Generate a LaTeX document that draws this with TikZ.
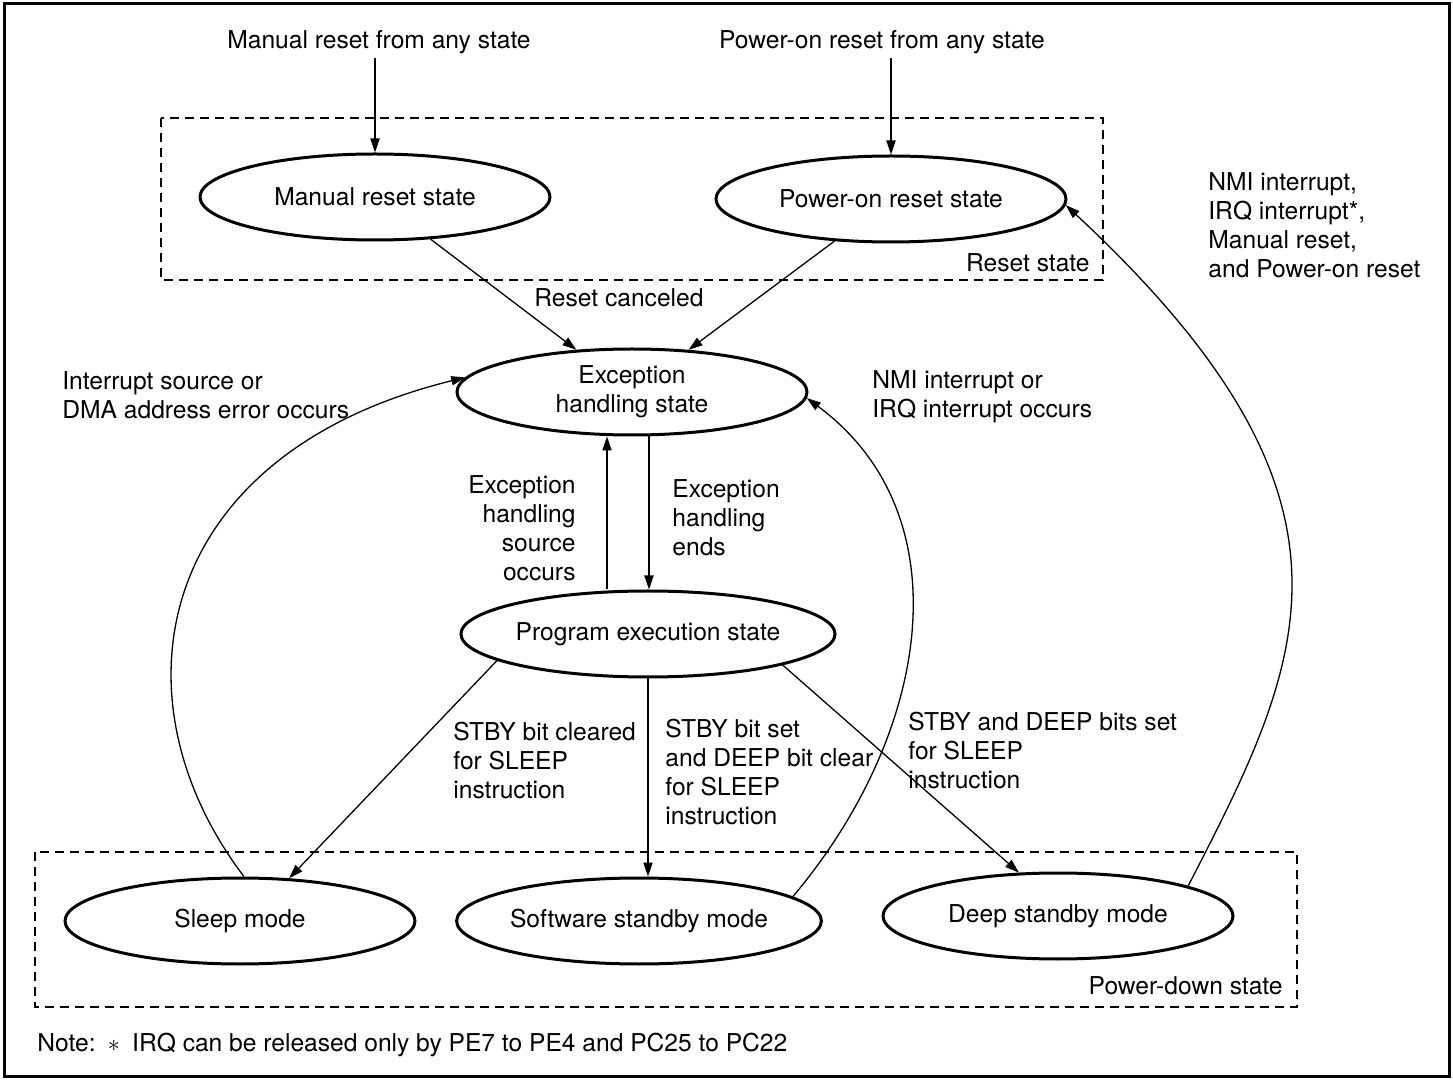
\documentclass[tikz,border=0pt]{standalone}
\usepackage{fontspec}
\setmainfont{TeX Gyre Heros}
\usetikzlibrary{shapes.geometric,arrows.meta}

\begin{document}
\begin{tikzpicture}[x=0.5pt,y=-0.5pt,
  every node/.append style={font=\fontsize{12.3}{14.5}\selectfont},
  state/.style={ellipse,draw,line width=1.5pt,minimum width=175pt,minimum height=43pt,inner sep=0pt,align=center},
  trans/.style={-{Triangle[length=7pt,width=4.6pt]},line width=0.65pt},
  region/.style={dash pattern=on 4.5pt off 3pt,line width=0.6pt},
  lbl/.style={inner sep=0pt,anchor=west,align=left}]
  \useasboundingbox (0,0) rectangle (1453,1080);
  \draw[line width=1.5pt] (4,4) rectangle (1449,1076);

  % dashed groups
  \draw[region] (161,118) rectangle (1103,280);
  \draw[region] (35,852) rectangle (1297,1007);
  \node[lbl,anchor=east] (rstlbl) at (1090,263) {Reset state};
  \node[lbl,anchor=east] (pdlbl) at (1283,986) {Power-down state};

  % states
  \foreach \name/\x/\y/\txt in {mrs/375/197/Manual reset state, pors/891/199/Power-on reset state,
      prog/648/634/Program execution state, sleep/240/921/Sleep mode,
      soft/639/921/Software standby mode, deep/1058/916/Deep standby mode}
    \node[state] (\name) at (\x,\y) {\txt};
  \node[state] (exc) at (632,392) {Exception\\handling state};

  % resets
  \node[inner sep=2pt] (mrtxt) at (379,42) {Manual reset from any state};
  \node[inner sep=2pt] (portxt) at (882,42) {Power-on reset from any state};
  \draw[trans] (mrs.north |- mrtxt.south) -- (mrs.north);
  \draw[trans] (pors.north |- portxt.south) -- (pors.north);
  \draw[trans] (mrs) -- (exc);
  \draw[trans] (pors) -- (exc);
  \node (rc) at (619,298) {Reset canceled};

  % exception <-> program
  \coordinate (up) at ([xshift=-12.5pt]exc.south);
  \coordinate (dn) at ([xshift=8.5pt]exc.south);
  \draw[trans] (up |- prog.north) -- (up);
  \draw[trans] (dn) -- (dn |- prog.north);
  \node[lbl,anchor=east,align=right] (srcl) at (576,528) {Exception\\handling\\source\\occurs};
  \node[lbl] (endl) at (672,518) {Exception\\handling\\ends};

  % SLEEP instruction
  \draw[trans] (prog.190) -- (sleep.41);
  \draw[trans] (prog.south) -- (prog.south |- soft.north);
  \draw[trans] (prog.-13) -- (deep.132);
  \node[lbl] (clrl) at (453,760) {STBY bit cleared\\for SLEEP\\instruction};
  \node[lbl] (setl) at (665,772) {STBY bit set\\and DEEP bit clear\\for SLEEP\\instruction};
  \node[lbl] (deepl) at (908,750) {STBY and DEEP bits set\\for SLEEP\\instruction};

  % wake-up paths
  \draw[trans] (sleep.85) .. controls +(-135,-178) and +(-313,77) .. (exc.175);
  \draw[trans] (soft.9) .. controls +(139,-165) and +(157,116) .. (exc.-2);
  \draw[trans] (deep.13) .. controls +(118,-229) and +(318,296) .. (pors.-2);
  \node[lbl] (intl) at (62,395) {Interrupt source or\\DMA address error occurs};
  \node[lbl] (nmil) at (872,397) {NMI interrupt or\\IRQ interrupt occurs};
  \node[lbl] (alll) at (1208,225) {NMI interrupt,\\IRQ interrupt*,\\Manual reset,\\and Power-on reset};

  \node[lbl] (note) at (37,1045) {Note:\enspace$\ast$\enspace IRQ can be released only by PE7 to PE4 and PC25 to PC22};
\end{tikzpicture}
\end{document}
